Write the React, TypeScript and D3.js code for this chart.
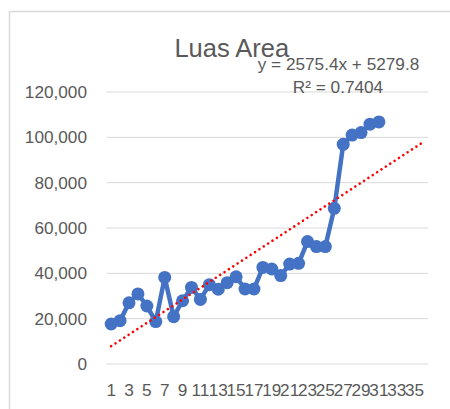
import React from "react";
import * as d3 from "d3";

// data (luas area per period)
const categories = d3.range(1, 37); // 36 slots on the axis, only 31 filled
const luasArea = [
  17650, 19100, 27000, 30900, 25600, 18700, 38200, 20900, 27900, 33800,
  28500, 35000, 33000, 35900, 38500, 33100, 33100, 42600, 41900, 39000,
  44100, 44400, 54000, 51800, 51800, 68700, 96900, 101000, 102100, 105800,
  106800,
];
const yTicks = [0, 20000, 40000, 60000, 80000, 100000, 120000];
const trendSlope = 2575.4;
const trendIntercept = 5279.8;
const equationText = "y = 2575.4x + 5279.8";
const r2Text = "R² = 0.7404";
const title = "Luas Area";

const W = 450;
const H = 409;
const font = "'Liberation Sans', Arial, sans-serif";
const grey = "#595959";

const App = () => {
  const x = d3.scaleBand<number>().domain(categories).range([106.7, 428]);
  const y = d3.scaleLinear().domain([0, 120000]).range([364, 92]);
  const cx = (c: number) => (x(c) as number) + x.bandwidth() / 2;

  const points = luasArea.map((v, i) => ({ c: i + 1, v }));
  const line = d3
    .line<{ c: number; v: number }>()
    .x((d) => cx(d.c))
    .y((d) => y(d.v));

  // linear trendline across the whole axis
  const first = categories[0];
  const last = categories[categories.length - 1];
  const trend = [
    { c: first, v: trendSlope * first + trendIntercept },
    { c: last, v: trendSlope * last + trendIntercept },
  ];

  const fmt = d3.format(",");

  return (
    <svg
      width={W}
      height={H}
      style={{ position: "absolute", left: 0, top: 0, background: "#fff" }}
    >
      {/* chart area border */}
      <rect x={9.5} y={11.5} width={470} height={420} fill="#fff" stroke="#d9d9d9" strokeWidth={1.5} />

      {/* gridlines + y labels */}
      {yTicks.map((t) => (
        <g key={t}>
          <line x1={106.7} x2={428} y1={y(t)} y2={y(t)} stroke="#d9d9d9" strokeWidth={1} />
          <text
            x={87}
            y={y(t)}
            dy="0.35em"
            textAnchor="end"
            fontFamily={font}
            fontSize={17.2}
            fill={grey}
          >
            {fmt(t)}
          </text>
        </g>
      ))}

      {/* x labels, every other category */}
      {categories
        .filter((c) => c % 2 === 1)
        .map((c) => (
          <text
            key={c}
            x={cx(c)}
            y={396}
            textAnchor="middle"
            fontFamily={font}
            fontSize={17.2}
            fill={grey}
          >
            {c}
          </text>
        ))}

      <text x={231.8} y={57} textAnchor="middle" fontFamily={font} fontSize={25.5} fill={grey}>
        {title}
      </text>

      {/* series */}
      <path d={line(points) as string} fill="none" stroke="#4472C4" strokeWidth={4.5} strokeLinejoin="round" />
      {points.map((d) => (
        <circle key={d.c} cx={cx(d.c)} cy={y(d.v)} r={6.5} fill="#4472C4" />
      ))}

      {/* trendline */}
      <path
        d={line(trend) as string}
        fill="none"
        stroke="#ff0000"
        strokeWidth={2.6}
        strokeLinecap="round"
        strokeDasharray="0.01 5.2"
      />

      <text x={338.5} y={69.5} textAnchor="middle" fontFamily={font} fontSize={17.2} fill={grey}>
        {equationText}
      </text>
      <text x={338} y={93} textAnchor="middle" fontFamily={font} fontSize={17.2} fill={grey}>
        {r2Text}
      </text>
    </svg>
  );
};

export default App;
